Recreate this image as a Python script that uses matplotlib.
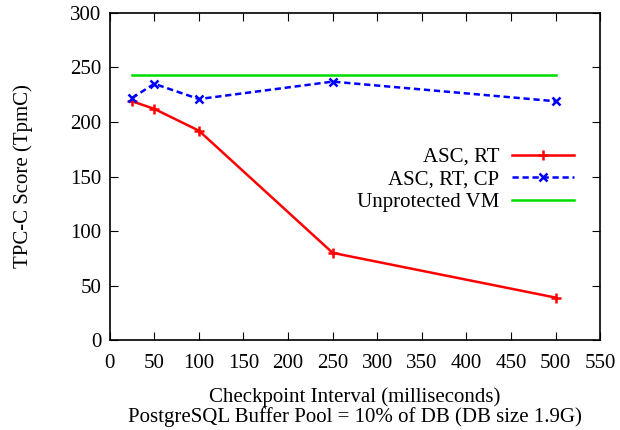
import matplotlib
matplotlib.use("Agg")
import matplotlib.pyplot as plt

interval = [25, 50, 100, 250, 500]
asc_rt = [219, 212, 192, 80, 39]
asc_rt_cp = [222, 235, 221, 237, 219]
unprotected = [243, 243, 243, 243, 243]

xticks = [0, 50, 100, 150, 200, 250, 300, 350, 400, 450, 500, 550]
yticks = [0, 50, 100, 150, 200, 250, 300]

plt.rcParams['font.family'] = ['Liberation Serif', 'DejaVu Serif']

fig = plt.figure(figsize=(6.2, 4.3), dpi=100)
ax = fig.add_axes([0.177, 0.209, 0.791, 0.761])

ax.plot(interval, asc_rt, color='#ff0000', lw=1.8, marker='+', ms=7, mew=1.8, label='ASC, RT')
ax.plot(interval, asc_rt_cp, color='#0000ff', lw=1.8, ls=(0, (2.5, 1.5)), marker='x', ms=6, mew=1.8, label='ASC, RT, CP')
ax.plot(interval, unprotected, color='#00dd00', lw=1.8, label='Unprotected VM')

ax.set_xlim(0, 550)
ax.set_ylim(0, 300)
ax.set_xticks(xticks)
ax.set_yticks(yticks)
ax.tick_params(direction='in', top=True, right=True, labelsize=15, length=6, pad=10)
ax.tick_params(axis='y', pad=6)
for s in ax.spines.values():
    s.set_linewidth(1.2)

ax.set_xlabel('Checkpoint Interval (milliseconds)\nPostgreSQL Buffer Pool = 10% of DB (DB size 1.9G)', fontsize=15, linespacing=1.05, labelpad=10)
ax.set_ylabel('TPC-C Score (TpmC)', fontsize=15, labelpad=27)

ax.legend(loc='center right', bbox_to_anchor=(0.985, 0.49), frameon=False, markerfirst=False,
          fontsize=15, handlelength=3.0, labelspacing=0.15, handletextpad=0.6)

fig.savefig('out.png', dpi=100)
